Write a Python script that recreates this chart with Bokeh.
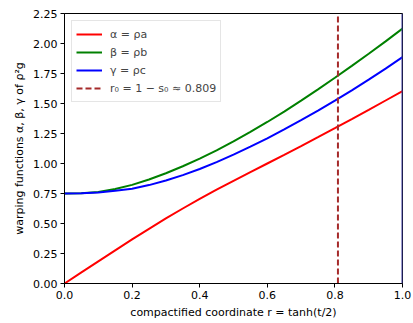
from bokeh.plotting import figure
from bokeh.models import Range1d, FixedTicker, Span, Legend, LegendItem, PrintfTickFormatter
from bokeh.embed import file_html
from bokeh.resources import INLINE

# data
r = [0.0, 0.05, 0.1, 0.15, 0.2, 0.25, 0.3, 0.35, 0.4, 0.45, 0.5,
     0.55, 0.6, 0.65, 0.7, 0.75, 0.8, 0.85, 0.9, 0.95, 1.0]
alpha = [0.0, 0.092, 0.184, 0.276, 0.367, 0.456, 0.542, 0.625, 0.705, 0.782, 0.856,
         0.928, 1.0, 1.072, 1.145, 1.219, 1.294, 1.37, 1.447, 1.525, 1.603]
beta = [0.75, 0.753, 0.763, 0.787, 0.822, 0.867, 0.919, 0.977, 1.041, 1.110, 1.184,
        1.263, 1.346, 1.433, 1.524, 1.618, 1.715, 1.814, 1.915, 2.018, 2.125]
gamma = [0.75, 0.752, 0.759, 0.772, 0.789, 0.820, 0.858, 0.903, 0.954, 1.012, 1.074,
         1.140, 1.210, 1.284, 1.361, 1.441, 1.524, 1.610, 1.699, 1.791, 1.886]
r0 = 0.809
x_lim = [0.0, 1.0]
y_lim = [0.0, 2.25]
x_ticks = [0.0, 0.2, 0.4, 0.6, 0.8, 1.0]
y_ticks = [0.0, 0.25, 0.5, 0.75, 1.0, 1.25, 1.5, 1.75, 2.0, 2.25]
labels = ["α = ρa", "β = ρb", "γ = ρc", "r₀ = 1 − s₀ ≈ 0.809"]

FONT = "DejaVu Sans"

p = figure(width=413, height=323, output_backend="svg", toolbar_location=None,
           x_range=Range1d(*x_lim), y_range=Range1d(*y_lim),
           min_border_left=64, min_border_right=11, min_border_top=13, min_border_bottom=40)
p.grid.visible = False
p.outline_line_color = "black"
p.outline_line_width = 1
p.background_fill_color = "white"
p.border_fill_color = "white"

l1 = p.line(r, alpha, line_color="#ff0000", line_width=2)
l2 = p.line(r, beta, line_color="#008000", line_width=2)
l3 = p.line(r, gamma, line_color="#0000ff", line_width=2)
l4 = p.line([r0, r0], y_lim, line_color="#a52a2a", line_width=2, line_dash="6 3")

edge = Span(location=x_lim[1], dimension="height", line_color="#3a3aa0", line_width=2)
p.add_layout(edge)

p.xaxis.ticker = FixedTicker(ticks=x_ticks)
p.yaxis.ticker = FixedTicker(ticks=y_ticks)
p.xaxis.formatter = PrintfTickFormatter(format="%.1f")
p.yaxis.formatter = PrintfTickFormatter(format="%.2f")
for ax in (p.xaxis, p.yaxis):
    ax.axis_line_color = "black"
    ax.major_tick_line_color = "black"
    ax.major_tick_out = 4
    ax.major_tick_in = 0
    ax.minor_tick_line_color = None
    ax.major_label_text_font = FONT
    ax.major_label_text_font_size = "11px"
    ax.major_label_text_color = "black"
    ax.axis_label_text_font = FONT
    ax.axis_label_text_font_size = "11px"
    ax.axis_label_text_font_style = "normal"
    ax.axis_label_text_color = "black"
    ax.major_label_standoff = 3
    ax.axis_label_standoff = 4

p.xaxis.axis_label = "compactified coordinate r = tanh(t/2)"
p.yaxis.axis_label = "warping functions α, β, γ of ρ²g"

legend = Legend(items=[LegendItem(label=labels[0], renderers=[l1]),
                       LegendItem(label=labels[1], renderers=[l2]),
                       LegendItem(label=labels[2], renderers=[l3]),
                       LegendItem(label=labels[3], renderers=[l4])],
                location="top_left")
legend.margin = 7
legend.padding = 4
legend.spacing = 0
legend.glyph_width = 26
legend.glyph_height = 18
legend.label_height = 18
legend.label_standoff = 8
legend.label_text_font = FONT
legend.label_text_font_size = "11px"
legend.border_line_color = "#cccccc"
legend.border_line_width = 1
legend.background_fill_alpha = 0.8
p.add_layout(legend)

open("out.html", "w").write(file_html(p, INLINE))
